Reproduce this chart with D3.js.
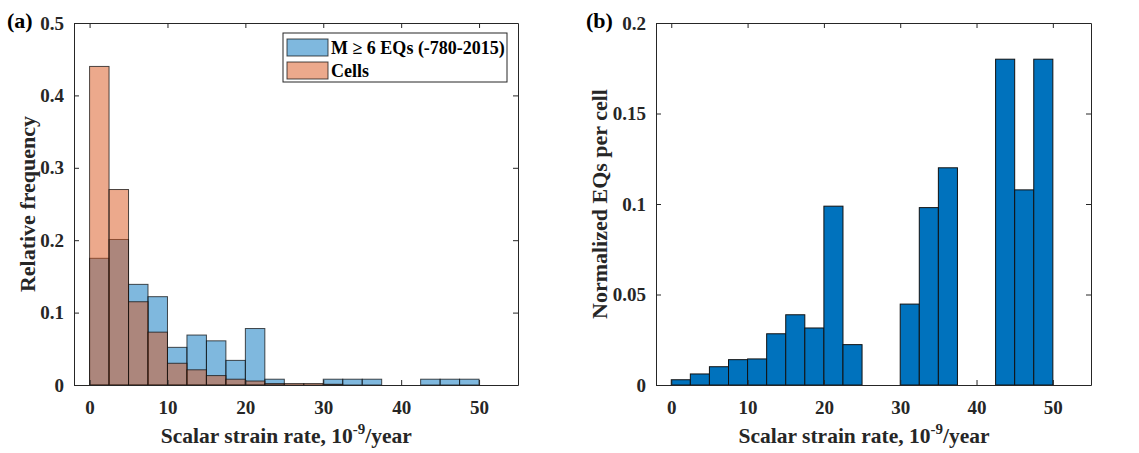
<!DOCTYPE html>
<html>
<head>
<meta charset="utf-8">
<script src="https://cdn.jsdelivr.net/npm/d3@7"></script>
<style>
  body { margin: 0; background: #fff; }
  svg { display: block; font-family: "Liberation Serif", "Times New Roman", serif; font-weight: bold; }
</style>
</head>
<body>
<svg id="chart" width="1139" height="453"></svg>
<script>
// bin left edges (10^-9/year), each bin 2.5 wide
var binStarts = [0, 2.5, 5, 7.5, 10, 12.5, 15, 17.5, 20, 22.5, 25, 27.5, 30, 32.5, 35, 37.5, 40, 42.5, 45, 47.5];
var binWidth = 2.5;

// panel (a): relative frequency
var eqFreq = [0.175, 0.201, 0.139, 0.122, 0.052, 0.069, 0.061, 0.034, 0.078, 0.008,
              0, 0, 0.008, 0.008, 0.008, 0, 0, 0.008, 0.008, 0.008];
var cellFreq = [0.44, 0.27, 0.115, 0.073, 0.030, 0.021, 0.013, 0.008, 0.0055, 0.002,
                0.002, 0.002, 0.001, 0, 0, 0, 0, 0, 0, 0];

// panel (b): normalized EQs per cell
var normEq = [0.0029, 0.0061, 0.0101, 0.014, 0.0144, 0.0283, 0.0388, 0.0315, 0.0988, 0.0223,
              0, 0, 0.0447, 0.098, 0.12, 0, 0, 0.18, 0.1078, 0.18];

var xTicks = [0, 10, 20, 30, 40, 50];
var yTicksA = [0, 0.1, 0.2, 0.3, 0.4, 0.5];
var yTicksB = [0, 0.05, 0.1, 0.15, 0.2];
var legendLabels = ["M \u2265 6 EQs (-780-2015)", "Cells"];

var svg = d3.select("#chart");

function drawPanel(opt) {
    var x = d3.scaleLinear().domain([-2, 55]).range([opt.left, opt.right]);
    var y = d3.scaleLinear().domain([0, opt.ymax]).range([opt.bottom, opt.top]);
    var g = svg.append("g");

    // bars
    opt.series.forEach(function(s) {
        g.selectAll(null)
            .data(s.values.map(function(v, i) { return { x0: binStarts[i], v: v }; })
                .filter(function(d) { return d.v > 0; }))
            .enter().append("rect")
            .attr("x", function(d) { return x(d.x0); })
            .attr("y", function(d) { return y(d.v); })
            .attr("width", function(d) { return x(d.x0 + binWidth) - x(d.x0); })
            .attr("height", function(d) { return y(0) - y(d.v); })
            .attr("fill", s.color)
            .attr("fill-opacity", s.alpha)
            .attr("stroke", "#111")
            .attr("stroke-opacity", s.alpha == 1 ? 1 : 0.75)
            .attr("stroke-width", 1);
    });

    // axes (MATLAB style box with inward ticks)
    var tickLen = 5;
    var bottomAxis = d3.axisBottom(x).tickValues(xTicks).tickSizeInner(-tickLen).tickSizeOuter(0).tickPadding(16);
    var topAxis = d3.axisTop(x).tickValues(xTicks).tickSizeInner(-tickLen).tickSizeOuter(0).tickFormat("");
    var leftAxis = d3.axisLeft(y).tickValues(opt.yTicks).tickSizeInner(-tickLen).tickSizeOuter(0).tickPadding(10)
        .tickFormat(function(d) { return d === 0 ? "0" : String(+d.toFixed(2)); });
    var rightAxis = d3.axisRight(y).tickValues(opt.yTicks).tickSizeInner(-tickLen).tickSizeOuter(0).tickFormat("");

    [[bottomAxis, "translate(0," + opt.bottom + ")"],
     [topAxis, "translate(0," + opt.top + ")"],
     [leftAxis, "translate(" + opt.left + ",0)"],
     [rightAxis, "translate(" + opt.right + ",0)"]].forEach(function(a) {
        var ax = g.append("g").attr("transform", a[1]).call(a[0]);
        ax.select(".domain").attr("stroke", "#262626").attr("stroke-width", 1);
        ax.selectAll(".tick line").attr("stroke", "#262626");
        ax.selectAll("text").attr("font-family", "Liberation Serif, serif")
            .attr("font-weight", "bold").attr("font-size", 19).attr("fill", "#262626");
    });

    // x label
    var xl = g.append("text")
        .attr("x", (x(0) + x(50)) / 2 + 2)
        .attr("y", 443)
        .attr("text-anchor", "middle")
        .attr("font-size", 21.5)
        .attr("fill", "#262626");
    xl.append("tspan").text("Scalar strain rate, 10");
    xl.append("tspan").attr("dy", -9).attr("font-size", 15).text("-9");
    xl.append("tspan").attr("dy", 9).text("/year");

    // y label
    g.append("text")
        .attr("transform", "translate(" + opt.ylabelX + "," + ((opt.top + opt.bottom) / 2) + ") rotate(-90)")
        .attr("text-anchor", "middle")
        .attr("font-size", 22)
        .attr("fill", "#262626")
        .text(opt.ylabel);

    // panel tag
    svg.append("text")
        .attr("x", opt.tagX)
        .attr("y", 28)
        .attr("font-size", 22)
        .attr("fill", "#000")
        .text(opt.tag);

    return { x: x, y: y, g: g };
}

var blue = "#0072BD", orange = "#D95319";

var pa = drawPanel({
    left: 74, right: 518, top: 23, bottom: 385, ymax: 0.5,
    yTicks: yTicksA,
    series: [
        { values: eqFreq, color: blue, alpha: 0.5 },
        { values: cellFreq, color: orange, alpha: 0.5 }
    ],
    ylabel: "Relative frequency", ylabelX: 35,
    tag: "(a)", tagX: 7
});

drawPanel({
    left: 656, right: 1091, top: 23, bottom: 385, ymax: 0.2,
    yTicks: yTicksB,
    series: [ { values: normEq, color: blue, alpha: 1 } ],
    ylabel: "Normalized EQs per cell", ylabelX: 607,
    tag: "(b)", tagX: 586
});

// legend for panel (a)
var lg = pa.g.append("g").attr("transform", "translate(283,33)");
lg.append("rect").attr("width", 224).attr("height", 49)
    .attr("fill", "#fff").attr("stroke", "#262626").attr("stroke-width", 1);
[blue, orange].forEach(function(c, i) {
    lg.append("rect").attr("x", 4).attr("y", 6 + i * 23).attr("width", 41).attr("height", 17)
        .attr("fill", c).attr("fill-opacity", 0.5).attr("stroke", "#111").attr("stroke-opacity", 0.75);
    lg.append("text").attr("x", 48).attr("y", 21 + i * 23)
        .attr("font-size", 18).attr("fill", "#000").text(legendLabels[i]);
});
</script>
</body>
</html>
